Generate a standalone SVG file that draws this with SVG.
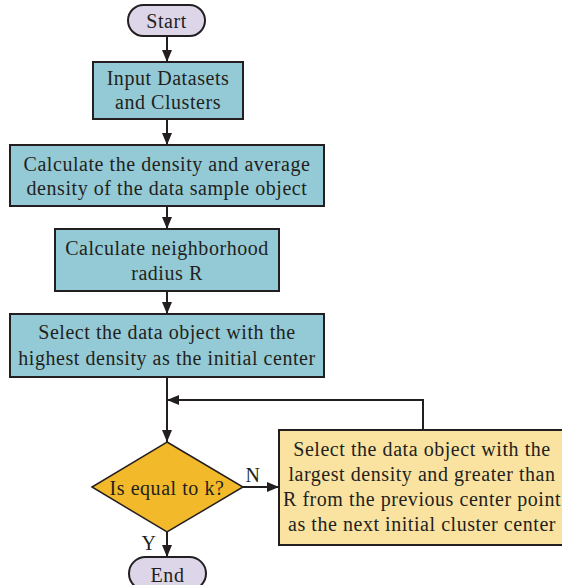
<svg xmlns="http://www.w3.org/2000/svg" width="562" height="585" viewBox="0 0 562 585">
<defs>
<marker id="ah" markerWidth="12" markerHeight="10" refX="12" refY="5" orient="auto" markerUnits="userSpaceOnUse">
<path d="M0,0 L12,5 L0,10 Z" fill="#231F20"/>
</marker>
<style>
.box{fill:#93CAD5;stroke:#231F20;stroke-width:2}
.term{fill:#DDD5E8;stroke:#231F20;stroke-width:2}
.dec{fill:#F2B92A;stroke:#231F20;stroke-width:1.5}
.yb{fill:#FAE3A1;stroke:#231F20;stroke-width:2}
.c{fill:none;stroke:#231F20;stroke-width:2}
text{font-family:'Liberation Serif',serif;font-size:20px;letter-spacing:0.55px;fill:#231F20;text-anchor:middle}
</style>
</defs>
<rect width="562" height="585" fill="#fff"/>
<g id="connectors">
<line class="c" x1="167" y1="36" x2="167" y2="62" marker-end="url(#ah)"/>
<line class="c" x1="167" y1="119" x2="167" y2="145" marker-end="url(#ah)"/>
<line class="c" x1="167" y1="206" x2="167" y2="229" marker-end="url(#ah)"/>
<line class="c" x1="167" y1="291" x2="167" y2="314" marker-end="url(#ah)"/>
<line class="c" x1="167" y1="377" x2="167" y2="442" marker-end="url(#ah)"/>
<polyline class="c" points="423,430 423,400 167,400" marker-end="url(#ah)"/>
<line class="c" x1="243" y1="487" x2="279" y2="487" marker-end="url(#ah)"/>
<line class="c" x1="167" y1="532" x2="167" y2="557" marker-end="url(#ah)"/>
<text x="253" y="482" font-family="Liberation Serif">N</text>
<text x="149" y="550" font-family="Liberation Serif">Y</text>
</g>
<g id="start">
<rect class="term" x="128" y="5" width="77" height="31" rx="15.5"/>
<text x="166.5" y="28" font-family="Liberation Serif">Start</text>
</g>
<g id="input">
<rect class="box" x="93" y="62" width="150" height="57"/>
<text x="168" y="85" font-family="Liberation Serif">Input Datasets</text>
<text x="168" y="109" font-family="Liberation Serif">and Clusters</text>
</g>
<g id="density">
<rect class="box" x="10" y="145" width="314" height="61"/>
<text x="167" y="171" font-family="Liberation Serif">Calculate the density and average</text>
<text x="167" y="195" font-family="Liberation Serif">density of the data sample object</text>
</g>
<g id="radius">
<rect class="box" x="55" y="229" width="224" height="62"/>
<text x="167" y="255" font-family="Liberation Serif">Calculate neighborhood</text>
<text x="167" y="280" font-family="Liberation Serif">radius R</text>
</g>
<g id="select">
<rect class="box" x="10" y="314" width="314" height="63"/>
<text x="167" y="339" font-family="Liberation Serif">Select the data object with the</text>
<text x="167" y="365" font-family="Liberation Serif">highest density as the initial center</text>
</g>
<g id="decision">
<polygon class="dec" points="167,442 243,487 167,532 92,487"/>
<text x="167" y="495" font-family="Liberation Serif">Is equal to k?</text>
</g>
<g id="next">
<rect class="yb" x="279" y="430" width="286" height="115"/>
<text x="422" y="456" font-family="Liberation Serif">Select the data object with the</text>
<text x="422" y="481" font-family="Liberation Serif">largest density and greater than</text>
<text x="422" y="506" font-family="Liberation Serif">R from the previous center point</text>
<text x="422" y="531" font-family="Liberation Serif">as the next initial cluster center</text>
</g>
<g id="end">
<rect class="term" x="129" y="557" width="77" height="33" rx="16.5"/>
<text x="167.5" y="582" font-family="Liberation Serif">End</text>
</g>
</svg>
